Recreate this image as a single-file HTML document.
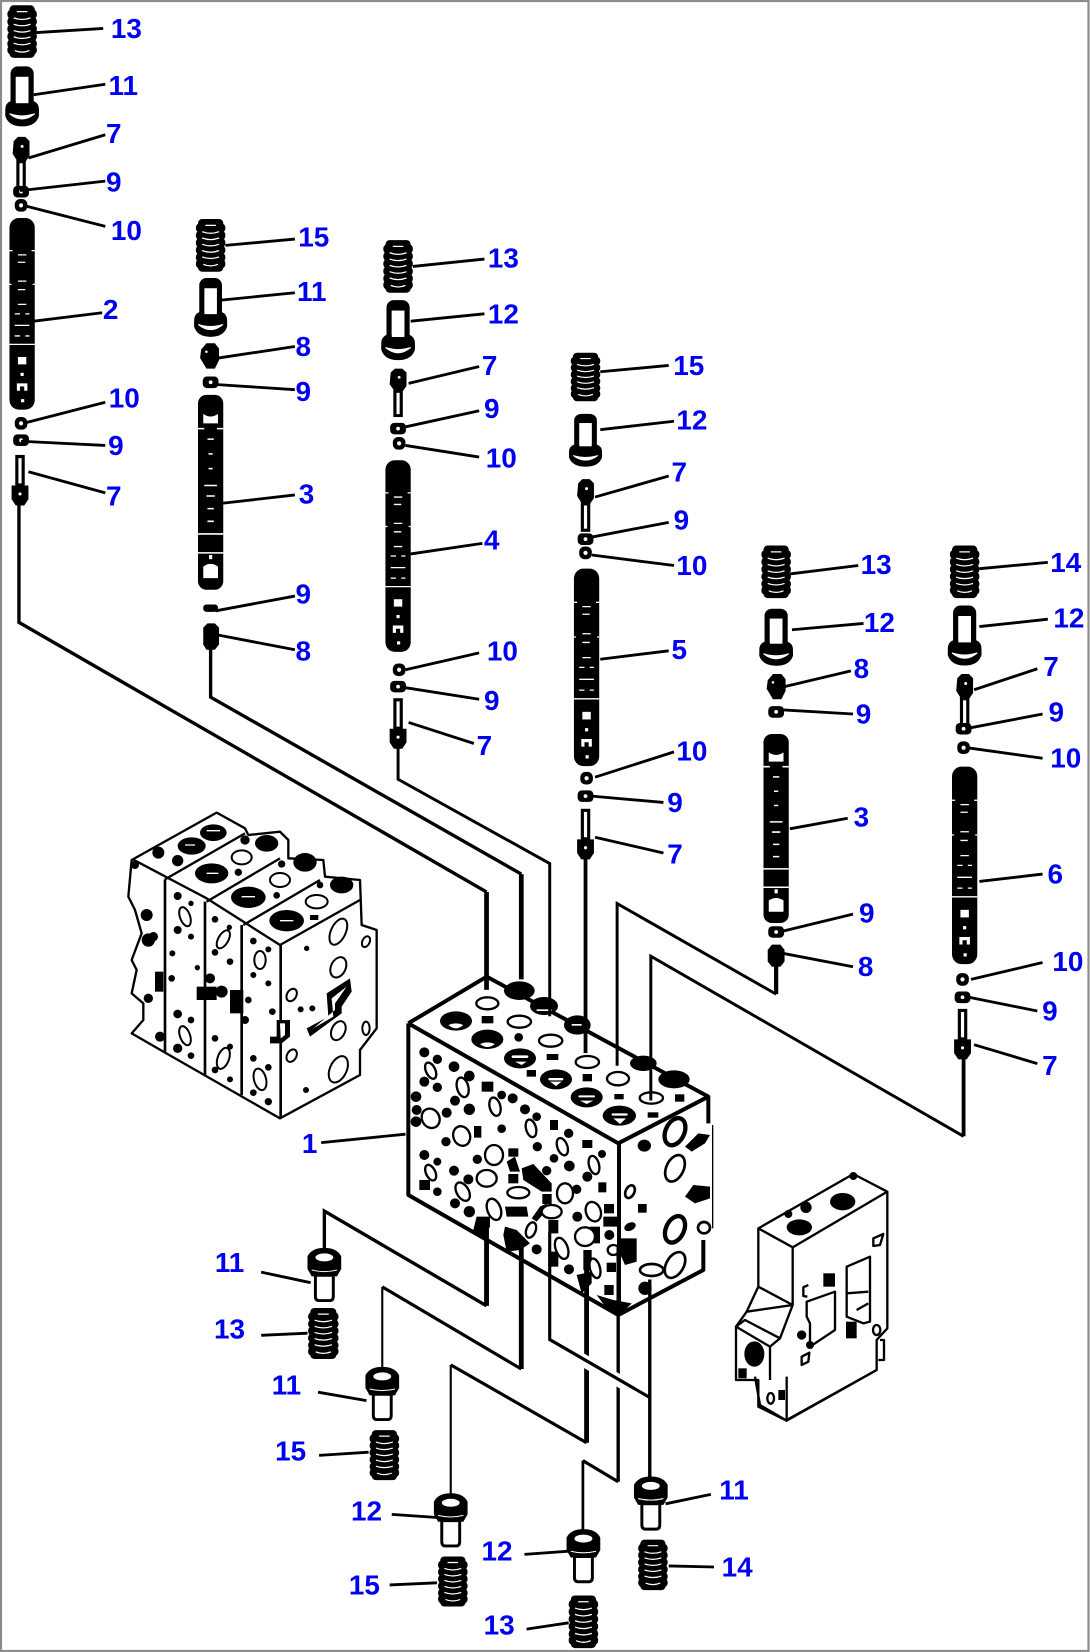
<!DOCTYPE html>
<html lang="en">
<head>
<meta charset="utf-8">
<title>Valve assembly diagram</title>
<style>
html,body{margin:0;padding:0;background:#fff}
svg{display:block}
text{font-family:"Liberation Sans",sans-serif;font-weight:700;font-size:26.5px;fill:#0000f0;text-anchor:middle}
</style>
</head>
<body>
<svg xmlns="http://www.w3.org/2000/svg" width="1090" height="1652" viewBox="0 0 1090 1652">
<defs>
<g id="spring"><g fill="#000"><rect x="-12" y="0" width="24" height="8" rx="4"/><rect x="-14" y="4" width="28" height="9" rx="4"/><rect x="-14" y="11" width="28" height="9" rx="4"/><rect x="-14" y="18" width="28" height="9" rx="4"/><rect x="-14" y="25" width="28" height="9" rx="4"/><rect x="-14" y="32" width="28" height="9" rx="4"/><rect x="-14" y="38" width="28" height="9" rx="4"/><rect x="-12" y="42" width="24" height="8" rx="4"/></g><path d="M-5 6H5M-8 12Q0 15 8 12M-8 18Q0 21 8 18M-8 24Q0 27 8 24M-8 30Q0 33 8 30M-8 36Q0 39 8 36M-7 43Q0 46 7 43" stroke="#fff" stroke-width="1.2" fill="none"/></g>
<g id="cap"><rect x="-11" y="0" width="22" height="40" rx="7" fill="#000"/><rect x="-6" y="10" width="12" height="25" fill="#fff"/><path d="M-11 33H11Q16 35 16 41V47Q13 57 0 57Q-13 57 -16 47V41Q-16 35 -11 33Z" fill="#000"/><rect x="-6" y="10" width="12" height="25" fill="#fff"/><path d="M-12 45Q0 55 12 45Q0 49 -12 45Z" fill="#fff" stroke="#fff"/></g>
<g id="pin"><path d="M-7 4L-3 0H4L8 4V18L4 24H-3L-8 16Z" fill="#000"/><circle cx="1" cy="9" r="1.4" fill="#fff"/><rect x="-4.5" y="22" width="9" height="28" fill="#000"/><rect x="-1.5" y="25" width="3" height="22" fill="#fff"/></g>
<g id="pinb"><rect x="-4.5" y="0" width="9" height="30" fill="#000"/><rect x="-1.5" y="3" width="3" height="24" fill="#fff"/><path d="M-8 29H8V42L4 48H-4L-8 42Z" fill="#000"/><circle cy="37" r="1.5" fill="#fff"/></g>
<g id="eight"><path d="M-8 6L-3 0H5L9 5V16L5 24H-3L-9 14Z" fill="#000"/><circle cx="-3" cy="8" r="1.2" fill="#fff"/></g>
<g id="ring9"><rect x="-7.5" y="-5.5" width="15" height="11" rx="4" fill="#000"/><circle r="1.8" fill="#fff"/></g>
<g id="ring10"><rect x="-6" y="-6" width="12" height="12" rx="5" fill="#000"/><circle r="2" fill="#fff"/></g>
<g id="spool"><rect x="-12" y="0" width="24" height="182" rx="9" fill="#000"/><path d="M-12 31H-9M9 31H12M-4 35H4M-4 42H3M-4 60H4M-4 68H3M-12 63H-10M10 63H12M-4 82H4M-7 91H-2M3 91H7M-7 102H7M-7 112H-2M3 112H7M-12 120H12" stroke="#fff" stroke-width="1.2"/><rect x="-4" y="132" width="8" height="7" fill="#fff"/><rect x="-1.5" y="147" width="3" height="3" fill="#fff"/><path d="M-5 157H5V164H2V160H-2V164H-5Z" fill="#fff"/><rect x="-1" y="172" width="3" height="3" fill="#fff"/></g>
<g id="spool3"><rect x="-12" y="0" width="24" height="185" rx="8" fill="#000"/><path d="M-7 18Q0 23 7 18V27H-7Z" fill="#fff"/><path d="M-12 32H-6M6 32H12M-3 42H3M-2 56H2M-2 70H2M-6 86H6M-4 96H4M-3 108H3M-3 120H3M-12 132H12M-12 150H12" stroke="#fff" stroke-width="1.5"/><path d="M-7 163Q0 158 7 163V174H-7Z" fill="#fff"/><rect x="-1.5" y="152" width="3" height="4" fill="#fff"/></g>
<g id="bolt"><path d="M-16 8Q-12 0 0 0Q12 0 16 8V20L12 27H-12L-16 20Z" fill="#000"/><ellipse cy="9" rx="8.5" ry="3.8" fill="#fff"/><path d="M-12 21Q0 24 12 21" stroke="#fff" stroke-width="1" fill="none"/><path d="M-8.5 26H8.5V46Q8.5 50 5 50H-5Q-8.5 50 -8.5 46Z" fill="#fff" stroke="#000" stroke-width="2.8"/></g>
</defs>

<rect x="1" y="1" width="1087.5" height="1650" fill="#fff" stroke="#8c8c8c" stroke-width="2.2"/>

<!-- Left small view -->
<g transform="translate(110,790) scale(.33333)" stroke-linejoin="round">
<path d="M65 210L320 68L405 115L415 135L510 125L535 150L535 205L640 210L645 260L750 270L755 405L800 420L800 715L750 780L750 855L510 985L160 785L65 730L100 690L100 640L65 610L80 540L65 510L95 430L75 360L55 320Z" fill="#fff" stroke="#000" stroke-width="7"/>
<path d="M68 208L290 325L400 395L510 465L750 330M165 268L405 130M290 335L510 205M400 405L630 270" fill="none" stroke="#000" stroke-width="7"/>
<path d="M165 268V785M285 335V855M395 405V915M512 465V985" fill="none" stroke="#000" stroke-width="8"/>
<g fill="#000"><ellipse cx="245" cy="168" rx="42" ry="26"/><ellipse cx="310" cy="128" rx="40" ry="25"/><ellipse cx="470" cy="160" rx="35" ry="25"/><ellipse cx="305" cy="250" rx="50" ry="30"/><ellipse cx="585" cy="217" rx="35" ry="28"/><ellipse cx="415" cy="322" rx="52" ry="32"/><ellipse cx="695" cy="285" rx="35" ry="25"/><ellipse cx="530" cy="392" rx="52" ry="32"/><circle cx="145" cy="188" r="18"/><circle cx="203" cy="212" r="17"/><circle cx="405" cy="150" r="14"/><circle cx="385" cy="247" r="11"/><circle cx="515" cy="222" r="11"/><circle cx="500" cy="316" r="10"/><circle cx="630" cy="285" r="10"/><rect x="600" y="375" width="25" height="15"/></g>
<g fill="#fff" stroke="#000" stroke-width="6"><ellipse cx="395" cy="202" rx="30" ry="21"/><ellipse cx="510" cy="270" rx="30" ry="21"/><ellipse cx="620" cy="335" rx="33" ry="20"/></g>
<g fill="none" stroke="#fff" stroke-width="4"><path d="M290 122H330M395 320H435M510 392H550M290 250H325M225 165H255"/></g>
<g fill="#fff" stroke="#000" stroke-width="6"><ellipse cx="225" cy="380" rx="15" ry="30" transform="rotate(-20 225 380)"/><ellipse cx="340" cy="448" rx="15" ry="30" transform="rotate(30 340 448)"/><ellipse cx="450" cy="510" rx="17" ry="27"/><ellipse cx="225" cy="737" rx="15" ry="30" transform="rotate(-20 225 737)"/><ellipse cx="340" cy="805" rx="17" ry="33" transform="rotate(20 340 805)"/><ellipse cx="450" cy="868" rx="18" ry="33" transform="rotate(-15 450 868)"/><ellipse cx="685" cy="425" rx="22" ry="42" transform="rotate(25 685 425)"/><ellipse cx="685" cy="532" rx="22" ry="32" transform="rotate(25 685 532)"/><ellipse cx="685" cy="722" rx="20" ry="30" transform="rotate(25 685 722)"/><ellipse cx="685" cy="838" rx="25" ry="42" transform="rotate(25 685 838)"/><ellipse cx="768" cy="455" rx="11" ry="17" transform="rotate(25 768 455)"/><ellipse cx="545" cy="615" rx="14" ry="20" transform="rotate(30 545 615)"/><ellipse cx="545" cy="797" rx="14" ry="20" transform="rotate(30 545 797)"/><ellipse cx="768" cy="715" rx="11" ry="20"/></g>
<path d="M590 715L655 680L650 610L720 565L725 605L695 650V670L600 740Z" fill="#000"/><path d="M610 715L670 680L665 625L710 590L675 640V660Z" fill="#fff"/>
<g fill="#000"><circle cx="203" cy="318" r="12"/><circle cx="243" cy="340" r="8"/><circle cx="203" cy="420" r="12"/><circle cx="243" cy="440" r="9"/><circle cx="187" cy="490" r="9"/><circle cx="315" cy="388" r="10"/><circle cx="358" cy="412" r="8"/><circle cx="315" cy="487" r="10"/><circle cx="360" cy="515" r="10"/><circle cx="430" cy="453" r="10"/><circle cx="475" cy="478" r="9"/><circle cx="430" cy="555" r="9"/><circle cx="475" cy="580" r="9"/><circle cx="590" cy="475" r="8"/><circle cx="487" cy="665" r="10"/><circle cx="262" cy="533" r="8"/><circle cx="203" cy="672" r="13"/><circle cx="243" cy="690" r="10"/><circle cx="203" cy="775" r="14"/><circle cx="243" cy="797" r="10"/><circle cx="315" cy="745" r="10"/><circle cx="360" cy="770" r="9"/><circle cx="315" cy="840" r="10"/><circle cx="360" cy="868" r="9"/><circle cx="430" cy="805" r="10"/><circle cx="475" cy="832" r="10"/><circle cx="430" cy="908" r="10"/><circle cx="475" cy="935" r="11"/><circle cx="588" cy="900" r="9"/><circle cx="572" cy="658" r="9"/><circle cx="607" cy="655" r="9"/><rect x="260" y="590" width="60" height="40"/><circle cx="300" cy="565" r="15"/><circle cx="335" cy="605" r="18"/><rect x="360" y="600" width="40" height="70"/><circle cx="405" cy="690" r="12"/><circle cx="415" cy="630" r="10"/><circle cx="150" cy="740" r="15"/><circle cx="115" cy="450" r="20"/><circle cx="110" cy="375" r="18"/><rect x="135" y="545" width="25" height="60"/><circle cx="115" cy="625" r="14"/><circle cx="75" cy="225" r="12"/><circle cx="130" cy="440" r="14"/><circle cx="185" cy="565" r="10"/></g>
<path d="M500 690H540V740L515 760H480V740H500Z" fill="#000"/><path d="M510 700H525V735L512 745Z" fill="#fff"/>
</g>

<!-- Main block -->
<g transform="translate(380,950) scale(.33333)" stroke-linejoin="round">
<path d="M85 220L320 80L980 430L1000 525V835L965 960L715 1095L85 735Z" fill="#fff"/>
<path d="M85 220L320 80L985 440V520M85 220L715 580L985 440M85 220V735L715 1095L970 960V870M717 580V1095" fill="none" stroke="#000" stroke-width="12"/>
<path d="M998 525V835" stroke="#000" stroke-width="4" fill="none"/>
<g fill="#000"><ellipse cx="228" cy="213" rx="48" ry="29"/><ellipse cx="322" cy="268" rx="48" ry="29"/><ellipse cx="420" cy="325" rx="48" ry="30"/><ellipse cx="528" cy="388" rx="48" ry="30"/><ellipse cx="620" cy="442" rx="48" ry="30"/><ellipse cx="718" cy="497" rx="50" ry="30"/>
<ellipse cx="418" cy="122" rx="46" ry="28"/><ellipse cx="492" cy="168" rx="42" ry="27"/><ellipse cx="592" cy="225" rx="40" ry="29"/><ellipse cx="790" cy="340" rx="40" ry="23"/><ellipse cx="882" cy="388" rx="47" ry="27"/>
<rect x="305" y="198" width="35" height="22"/><circle cx="416" cy="262" r="13"/><rect x="500" y="312" width="35" height="18"/><rect x="440" y="360" width="28" height="20"/><rect x="608" y="372" width="28" height="22"/><rect x="703" y="432" width="28" height="16"/><rect x="803" y="487" width="32" height="16"/><rect x="885" y="433" width="28" height="22"/></g>
<g fill="#fff"><path d="M205 225Q228 215 250 225Q228 245 205 225Z"/><path d="M300 282Q322 272 345 282Q322 300 300 282Z"/><rect x="395" y="316" width="50" height="8" rx="4"/><path d="M405 335H440L425 345Z"/><rect x="505" y="384" width="45" height="7" rx="3"/><path d="M510 395H545L528 408Z"/><rect x="595" y="436" width="50" height="6" rx="3"/><path d="M600 452H640L620 462Z"/><rect x="695" y="490" width="48" height="7" rx="3"/><path d="M700 505H738L720 522Z"/><rect x="470" y="178" width="45" height="5"/><rect x="575" y="222" width="30" height="5"/></g>
<g fill="#fff" stroke="#000" stroke-width="7"><ellipse cx="322" cy="160" rx="33" ry="18"/><ellipse cx="418" cy="215" rx="35" ry="18"/><ellipse cx="512" cy="272" rx="35" ry="18"/><ellipse cx="622" cy="336" rx="35" ry="18"/><ellipse cx="714" cy="386" rx="33" ry="20"/><ellipse cx="814" cy="444" rx="35" ry="17"/></g>
<g fill="#000"><circle cx="133" cy="307" r="15"/><circle cx="172" cy="328" r="14"/><circle cx="133" cy="395" r="15"/><circle cx="172" cy="412" r="14"/><circle cx="222" cy="350" r="16"/><circle cx="268" cy="378" r="16"/><circle cx="225" cy="452" r="15"/><rect x="305" y="395" width="35" height="30"/><circle cx="365" cy="435" r="13"/><circle cx="268" cy="478" r="17"/><circle cx="398" cy="445" r="15"/><circle cx="435" cy="478" r="15"/><circle cx="470" cy="500" r="13"/><rect x="510" y="510" width="24" height="30"/><circle cx="566" cy="550" r="14"/><circle cx="472" cy="590" r="14"/><circle cx="522" cy="625" r="13"/><circle cx="568" cy="648" r="16"/><rect x="607" y="570" width="30" height="24"/><circle cx="666" cy="612" r="12"/><circle cx="622" cy="680" r="15"/><rect x="655" y="697" width="24" height="30"/><circle cx="200" cy="488" r="15"/><circle cx="198" cy="575" r="14"/><rect x="282" y="528" width="22" height="35"/><circle cx="365" cy="536" r="13"/><circle cx="108" cy="440" r="16"/><circle cx="108" cy="515" r="16"/><circle cx="133" cy="615" r="15"/><circle cx="172" cy="635" r="12"/><rect x="118" y="690" width="32" height="30"/><circle cx="172" cy="725" r="13"/><circle cx="222" cy="662" r="15"/><circle cx="265" cy="688" r="15"/><circle cx="225" cy="760" r="15"/><circle cx="268" cy="785" r="17"/><circle cx="292" cy="628" r="14"/><rect x="385" y="595" width="30" height="25"/><rect x="385" y="672" width="30" height="28"/><circle cx="500" cy="662" r="14"/><circle cx="590" cy="718" r="14"/><rect x="487" y="732" width="28" height="30"/><circle cx="592" cy="800" r="15"/><rect x="672" y="762" width="30" height="28"/><circle cx="688" cy="855" r="15"/><circle cx="470" cy="898" r="15"/><circle cx="567" cy="958" r="15"/><rect x="673" y="1005" width="28" height="30"/><rect x="680" y="938" width="28" height="28"/><circle cx="110" cy="480" r="15"/></g>
<path d="M425 655L460 642L515 700V725H485L430 690Z" fill="#000"/><path d="M380 635L405 620L420 665H390Z" fill="#000"/>
<path d="M290 800H330V830L310 865L280 840Z" fill="#000"/><path d="M375 770H440L445 800H380ZM375 830L410 840L450 880L420 900L380 905L370 855Z" fill="#000"/>
<path d="M670 800H715V830H670ZM715 865H770V935L735 945L715 900Z" fill="#000"/><path d="M590 975L635 965V1000L605 1030ZM650 1035L700 1050L755 1060L720 1095L680 1075Z" fill="#000"/>
<path d="M505 810H535V850H505ZM505 905H535V950H505ZM610 900H635V960H610ZM480 770L500 760L505 775L470 815L455 805Z" fill="#000"/><path d="M630 830H660V880H630Z" fill="#000"/>
<g fill="#fff" stroke="#000" stroke-width="7"><ellipse cx="152" cy="362" rx="14" ry="26" transform="rotate(-25 152 362)"/><ellipse cx="248" cy="412" rx="17" ry="30" transform="rotate(-15 248 412)"/><ellipse cx="345" cy="470" rx="16" ry="28" transform="rotate(-15 345 470)"/><ellipse cx="453" cy="535" rx="15" ry="27" transform="rotate(-15 453 535)"/><ellipse cx="547" cy="590" rx="15" ry="27" transform="rotate(-20 547 590)"/><ellipse cx="642" cy="645" rx="15" ry="28" transform="rotate(-15 642 645)"/><ellipse cx="152" cy="505" rx="26" ry="30" transform="rotate(-30 152 505)"/><ellipse cx="245" cy="558" rx="25" ry="30" transform="rotate(-20 245 558)"/><ellipse cx="342" cy="615" rx="27" ry="30"/><ellipse cx="152" cy="668" rx="14" ry="25" transform="rotate(-25 152 668)"/><ellipse cx="248" cy="725" rx="18" ry="30" transform="rotate(-30 248 725)"/><ellipse cx="342" cy="778" rx="20" ry="33" transform="rotate(-20 342 778)"/><ellipse cx="453" cy="840" rx="14" ry="24" transform="rotate(20 453 840)"/><ellipse cx="545" cy="895" rx="18" ry="33" transform="rotate(-20 545 895)"/><ellipse cx="645" cy="955" rx="15" ry="30" transform="rotate(-15 645 955)"/><ellipse cx="555" cy="730" rx="24" ry="30"/><ellipse cx="640" cy="785" rx="22" ry="30" transform="rotate(-20 640 785)"/><ellipse cx="320" cy="685" rx="30" ry="25"/><ellipse cx="415" cy="728" rx="33" ry="17"/><ellipse cx="515" cy="785" rx="30" ry="20"/><ellipse cx="615" cy="860" rx="30" ry="28"/><ellipse cx="700" cy="900" rx="17" ry="15"/></g>
<g fill="#fff" stroke="#000" stroke-width="13"><ellipse cx="885" cy="545" rx="28" ry="43" transform="rotate(25 885 545)"/><ellipse cx="885" cy="838" rx="27" ry="42" transform="rotate(25 885 838)"/></g>
<g fill="#fff" stroke="#000" stroke-width="8"><ellipse cx="885" cy="655" rx="26" ry="42" transform="rotate(25 885 655)"/><ellipse cx="885" cy="945" rx="26" ry="42" transform="rotate(30 885 945)"/><ellipse cx="750" cy="725" rx="13" ry="20" transform="rotate(25 750 725)"/><ellipse cx="815" cy="960" rx="35" ry="18"/><ellipse cx="972" cy="833" rx="18" ry="17"/></g>
<path d="M915 590L955 550L990 555L975 580L935 605ZM915 740L940 705L990 710V745L945 760Z" fill="#000"/>
<g fill="#000"><ellipse cx="793" cy="587" rx="20" ry="18"/><rect x="774" y="762" width="26" height="26"/><ellipse cx="750" cy="830" rx="18" ry="12" transform="rotate(-25 750 830)"/><ellipse cx="795" cy="1015" rx="20" ry="20"/></g>
</g>

<!-- Right small view -->
<g transform="translate(720,1150) scale(.33333)" stroke-linejoin="round">
<path d="M115 235L400 72L502 125V535L470 570V660L200 812L115 770V690H48V530L80 485L115 410Z" fill="#fff" stroke="#000" stroke-width="7"/>
<path d="M115 235L218 292L502 125M218 292V465L115 410M80 485L218 465L180 565L75 510L48 530L150 590V690M150 590L180 565M470 660L200 810M200 680V812L120 765L105 680" fill="none" stroke="#000" stroke-width="7"/>
<g fill="#000"><ellipse cx="368" cy="155" rx="38" ry="26"/><ellipse cx="238" cy="232" rx="38" ry="24"/><circle cx="258" cy="172" r="17"/><circle cx="205" cy="192" r="12"/><circle cx="400" cy="78" r="12"/><ellipse cx="103" cy="612" rx="30" ry="38"/><rect x="310" y="370" width="35" height="40"/><rect x="378" y="515" width="32" height="50"/><circle cx="245" cy="555" r="14"/><circle cx="270" cy="585" r="12"/><rect x="175" y="720" width="20" height="30"/><rect x="55" y="655" width="25" height="30"/></g>
<g fill="none" stroke="#000" stroke-width="7"><path d="M265 405L250 412L250 438L262 440"/><path d="M260 455L345 425V540L270 590V520L260 500Z"/><path d="M380 350L450 320V515L430 520L380 500Z"/><path d="M380 430L445 425M410 480L445 460"/><path d="M460 265L490 252L480 285L460 288Z"/><path d="M245 620L268 608L265 635L245 645Z"/><ellipse cx="152" cy="745" rx="10" ry="16"/><ellipse cx="470" cy="540" rx="11" ry="15"/><path d="M480 570H492V630H475"/></g>
</g>

<g transform="scale(1.0531)">
<!-- Connector lines -->
<g fill="none" stroke="#000" stroke-linejoin="miter">
<path d="M462 847V940" stroke-width="4.5"/><path d="M18 470V591L462 847" stroke-width="3.2"/>
<path d="M495 830V930" stroke-width="4.5"/><path d="M200 610V662L495 830" stroke-width="3.2"/>
<path d="M378 700V740L522 820V965" stroke-width="2.8"/>
<path d="M556 805V1000" stroke-width="3.6"/>
<path d="M737 910V944" stroke-width="4"/><path d="M737 944L586 858V1012" stroke-width="2.8"/>
<path d="M915 1000V1079" stroke-width="3.6"/><path d="M915 1079L618 908V1045" stroke-width="2.8"/>
<path d="M462 1165V1240" stroke-width="4.6"/><path d="M462 1240L308 1150V1190" stroke-width="3.2"/>
<path d="M495 1175V1300" stroke-width="4.6"/><path d="M495 1300L363 1222" stroke-width="3"/><path d="M363 1222V1300" stroke-width="2"/>
<path d="M557 1190V1370" stroke-width="4.6"/><path d="M557 1370L428 1296" stroke-width="3"/><path d="M428 1296V1420" stroke-width="2"/>
<path d="M587 1185V1407" stroke-width="3.2"/><path d="M587 1407L553.5 1387" stroke-width="3"/><path d="M553.5 1387V1455" stroke-width="2.6"/>
<path d="M617 1215V1405" stroke-width="3.2"/>
<path d="M535 1281L607 1322" stroke="#fff" stroke-width="12"/>
<path d="M522 1170V1272L617 1327" stroke-width="3"/>
</g>

<!-- Parts: column A -->
<use href="#spring" transform="translate(21,5)"/>
<use href="#cap" transform="translate(21,63)"/>
<use href="#pin" transform="translate(20,130)"/>
<use href="#ring9" x="20" y="182"/>
<use href="#ring10" x="20" y="195"/>
<use href="#spool" transform="translate(21,207)"/>
<use href="#ring10" x="20" y="402"/>
<use href="#ring9" x="20" y="418"/>
<use href="#pinb" transform="translate(19,432)"/>
<!-- column B -->
<use href="#spring" transform="translate(200,208)"/>
<use href="#cap" transform="translate(200,264) scale(.98,.98)"/>
<use href="#eight" transform="translate(199,326)"/>
<use href="#ring9" x="200" y="363"/>
<use href="#spool3" transform="translate(200,375)"/>
<rect x="193" y="574" width="14" height="7" rx="3" fill="#000"/>
<path d="M193 596L197 592H204L208 596V612L204 617H196L193 612Z" fill="#000"/>
<!-- column C -->
<use href="#spring" transform="translate(378,228)"/>
<use href="#cap" transform="translate(378,285)"/>
<use href="#pin" transform="translate(378,350) scale(1,.92)"/>
<use href="#ring9" x="378" y="407"/>
<use href="#ring10" x="379" y="421"/>
<use href="#spool" transform="translate(378,437)"/>
<use href="#ring10" x="379" y="636"/>
<use href="#ring9" x="378" y="652"/>
<use href="#pinb" transform="translate(378,663)"/>
<!-- column D -->
<use href="#spring" transform="translate(556,335) scale(1,.92)"/>
<use href="#cap" transform="translate(556,393) scale(.98,.88)"/>
<use href="#pin" transform="translate(556,455)"/>
<use href="#ring9" x="556" y="512"/>
<use href="#ring10" x="556" y="525"/>
<use href="#spool" transform="translate(557,540) scale(1,1.03)"/>
<use href="#ring10" x="557" y="739"/>
<use href="#ring9" x="556" y="756"/>
<use href="#pinb" transform="translate(556,768)"/>
<!-- column E -->
<use href="#spring" transform="translate(737,518)"/>
<use href="#cap" transform="translate(737,578) scale(1,.95)"/>
<use href="#eight" transform="translate(737,640)"/>
<use href="#ring9" x="737" y="676"/>
<use href="#spool3" transform="translate(737,697) scale(1,.97)"/>
<use href="#ring9" x="737" y="885"/>
<path d="M729 902L733 897H741L745 902V913L741 918H733L729 913Z" fill="#000"/>
<!-- column F -->
<use href="#spring" transform="translate(916,518)"/>
<use href="#cap" transform="translate(916,575)"/>
<use href="#pin" transform="translate(916,640)"/>
<use href="#ring9" x="915" y="692"/>
<use href="#ring10" x="915" y="710"/>
<use href="#spool" transform="translate(916,728) scale(1,1.03)"/>
<use href="#ring10" x="914" y="930"/>
<use href="#ring9" x="914" y="947"/>
<use href="#pinb" transform="translate(914,958)"/>
<!-- bottom parts -->
<use href="#bolt" transform="translate(308,1185)"/>
<use href="#spring" transform="translate(307,1242) scale(1.03,.97)"/>
<use href="#bolt" transform="translate(363,1298)"/>
<use href="#spring" transform="translate(365,1358) scale(1,.95)"/>
<use href="#bolt" transform="translate(428,1418)"/>
<use href="#spring" transform="translate(430,1478) scale(1,.95)"/>
<use href="#bolt" transform="translate(554,1452)"/>
<use href="#spring" transform="translate(554,1515)"/>
<use href="#bolt" transform="translate(618,1402)"/>
<use href="#spring" transform="translate(620,1462) scale(1,.96)"/>

<!-- Leader lines -->
<path fill="none" stroke="#000" stroke-width="2.7" d="M33 31L98 27M32 90L100 80M27 150L100 128M19 181L100 172M22 195L100 215M32 305L97 297M22 402L100 382M20 419L100 423M27 448L100 468
M214 233L280 227M210 285L280 278M207 340L280 329M203 365L280 370M210 478L280 470M205 580L280 566M207 603L280 617
M392 253L460 246M390 305L460 298M388 364L455 348M382 406L455 390M385 423L455 434M390 526L458 516M385 636L455 620M385 653L455 664M388 686L450 706
M570 353L635 347M570 408L640 400M565 472L635 452M562 510L635 496M562 527L640 537M570 626L635 618M565 738L640 714M562 756L630 762M565 795L630 810
M750 545L815 537M752 598L820 592M745 652L808 637M742 674L810 678M750 787L805 777M740 885L810 868M742 905L810 918
M930 540L995 534M930 595L995 588M925 655L985 635M922 691L990 678M918 710L990 720M930 837L990 830M922 930L990 914M920 947L985 960M925 992L985 1010
M305 1085L385 1077M248 1208L295 1218M248 1268L292 1266M302 1322L348 1330M303 1382L350 1379M372 1438L415 1441M370 1505L415 1503M498 1476L540 1473M500 1547L540 1541M675 1419L632 1428M678 1488L635 1487"/>

<!-- Labels -->
<g>
<text x="120" y="36">13</text><text x="117" y="90">11</text><text x="108" y="136">7</text><text x="108" y="182">9</text><text x="120" y="228">10</text><text x="105" y="303">2</text><text x="118" y="387">10</text><text x="110" y="432">9</text><text x="108" y="480">7</text>
<text x="298" y="234">15</text><text x="296" y="286">11</text><text x="288" y="338">8</text><text x="288" y="381">9</text><text x="291" y="478">3</text><text x="288" y="573">9</text><text x="288" y="627">8</text>
<text x="478" y="254">13</text><text x="478" y="307">12</text><text x="465" y="356">7</text><text x="467" y="397">9</text><text x="476" y="444">10</text><text x="467" y="522">4</text><text x="477" y="627">10</text><text x="467" y="674">9</text><text x="460" y="717">7</text>
<text x="654" y="356">15</text><text x="657" y="408">12</text><text x="645" y="457">7</text><text x="647" y="503">9</text><text x="657" y="546">10</text><text x="645" y="626">5</text><text x="657" y="722">10</text><text x="641" y="771">9</text><text x="641" y="820">7</text>
<text x="832" y="545">13</text><text x="835" y="600">12</text><text x="818" y="644">8</text><text x="820" y="687">9</text><text x="818" y="785">3</text><text x="823" y="876">9</text><text x="822" y="927">8</text>
<text x="1012" y="543">14</text><text x="1015" y="596">12</text><text x="998" y="642">7</text><text x="1003" y="685">9</text><text x="1012" y="729">10</text><text x="1002" y="839">6</text><text x="1014" y="922">10</text><text x="997" y="969">9</text><text x="997" y="1021">7</text>
<text x="294" y="1095">1</text>
<text x="218" y="1208">11</text><text x="218" y="1271">13</text><text x="272" y="1324">11</text><text x="276" y="1387">15</text><text x="348" y="1444">12</text><text x="346" y="1514">15</text><text x="472" y="1482">12</text><text x="474" y="1552">13</text><text x="697" y="1424">11</text><text x="700" y="1497">14</text>
</g>
</g>
</svg>
</body>
</html>
